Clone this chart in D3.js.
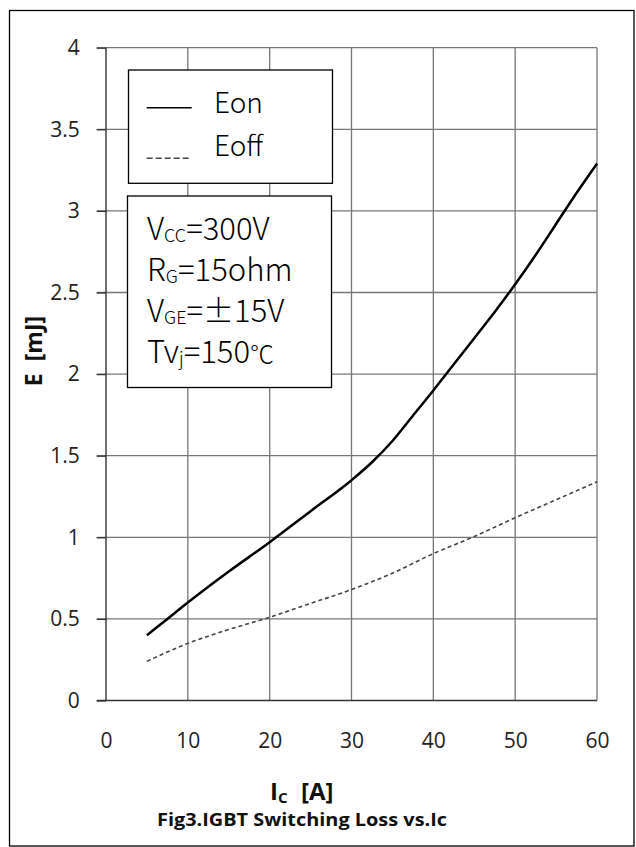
<!DOCTYPE html>
<html>
<head>
<meta charset="utf-8">
<script src="https://cdn.jsdelivr.net/npm/d3@7"></script>
<style>
  html, body { margin: 0; padding: 0; background: #fff; }
  svg { display: block; }
</style>
</head>
<body>
<svg id="chart" width="636" height="847"></svg>
<script>
// ---- data ----
const eonCurrent  = [5, 7.5, 10, 15, 20, 25, 30, 32.5, 35, 37.5, 40, 42.5, 45, 47.5, 50, 52.5, 55, 57.5, 60];
const eonEnergy   = [0.40, 0.50, 0.60, 0.79, 0.97, 1.16, 1.35, 1.46, 1.59, 1.745, 1.90, 2.06, 2.22, 2.38, 2.55, 2.73, 2.92, 3.11, 3.29];
const eoffCurrent = [5, 10, 15, 20, 25, 30, 35, 40, 45, 50, 55, 60];
const eoffEnergy  = [0.24, 0.35, 0.435, 0.51, 0.595, 0.68, 0.78, 0.90, 1.005, 1.12, 1.23, 1.34];
const xTicks = [0, 10, 20, 30, 40, 50, 60];
const yTicks = [0, 0.5, 1, 1.5, 2, 2.5, 3, 3.5, 4];
const yTickLabels = ["0", "0.5", "1", "1.5", "2", "2.5", "3", "3.5", "4"];
const legendNames = ["Eon", "Eoff"];

const svg = d3.select("#chart");
const x = d3.scaleLinear().domain([0, 60]).range([106, 597]);
const y = d3.scaleLinear().domain([0, 4]).range([700.5, 47.7]);

// outer frame
svg.append("rect").attr("x", 9.5).attr("y", 10.5).attr("width", 624.5).attr("height", 835.5)
  .attr("fill", "none").attr("stroke", "#000").attr("stroke-width", 1.3);

const tickFont = "'Open Sans', 'Noto Sans', sans-serif";
const grid = svg.append("g");
grid.selectAll("line.v").data(xTicks.filter(d => d > 0)).join("line")
  .attr("x1", d => x(d)).attr("x2", d => x(d))
  .attr("y1", y(0)).attr("y2", y(4))
  .attr("stroke", "#777").attr("stroke-width", 1.3);
grid.selectAll("line.h").data(yTicks.filter(d => d > 0)).join("line")
  .attr("x1", x(0) - 9.3).attr("x2", x(60))
  .attr("y1", d => y(d)).attr("y2", d => y(d))
  .attr("stroke", "#777").attr("stroke-width", 1.3);

// y axis
const yAxis = d3.axisLeft(y).tickValues(yTicks).tickSize(9.3).tickPadding(17)
  .tickFormat((d, i) => yTickLabels[i]);
const gy = svg.append("g").attr("transform", `translate(${x(0)},0)`).call(yAxis);
gy.select(".domain").remove();
gy.selectAll(".tick line").attr("stroke", "#333").attr("stroke-width", 1.3);
gy.selectAll(".tick text").attr("font-family", tickFont).attr("font-size", 21).attr("fill", "#222");
svg.append("line").attr("x1", x(0)).attr("x2", x(0)).attr("y1", y(4)).attr("y2", y(0))
  .attr("stroke", "#333").attr("stroke-width", 1.4);

// x axis
const xAxis = d3.axisBottom(x).tickValues(xTicks).tickSize(0).tickPadding(33).tickFormat(d3.format("d"));
const gx = svg.append("g").attr("transform", `translate(0,${y(0)})`).call(xAxis);
gx.select(".domain").remove();
gx.selectAll(".tick text").attr("font-family", tickFont).attr("font-size", 21).attr("fill", "#222");
svg.append("line").attr("x1", x(0) - 9.3).attr("x2", x(60)).attr("y1", y(0)).attr("y2", y(0))
  .attr("stroke", "#333").attr("stroke-width", 1.4);

// curves
const line = d3.line().x(d => x(d[0])).y(d => y(d[1])).curve(d3.curveMonotoneX);
svg.append("path").datum(d3.zip(eonCurrent, eonEnergy)).attr("d", line)
  .attr("fill", "none").attr("stroke", "#000").attr("stroke-width", 2.5);
svg.append("path").datum(d3.zip(eoffCurrent, eoffEnergy)).attr("d", line)
  .attr("fill", "none").attr("stroke", "#444").attr("stroke-width", 1.6).attr("stroke-dasharray", "4,3");

// legend box
const legFont = "'Noto Sans CJK SC', 'Noto Sans', sans-serif";
svg.append("rect").attr("x", 128.5).attr("y", 70).attr("width", 204).attr("height", 113.3)
  .attr("fill", "#fff").attr("stroke", "#000").attr("stroke-width", 1.3);
svg.append("line").attr("x1", 146.7).attr("x2", 191.7).attr("y1", 107.7).attr("y2", 107.7)
  .attr("stroke", "#000").attr("stroke-width", 1.4);
svg.append("line").attr("x1", 146.7).attr("x2", 191.7).attr("y1", 158.3).attr("y2", 158.3)
  .attr("stroke", "#444").attr("stroke-width", 1.4).attr("stroke-dasharray", "6,3");
svg.selectAll("text.leg").data(legendNames).join("text").attr("class", "leg")
  .attr("x", 214).attr("y", (d, i) => [113.3, 156][i])
  .attr("font-family", legFont).attr("font-weight", 300).attr("font-size", 28).attr("fill", "#000")
  .text(d => d);

// conditions box
svg.append("rect").attr("x", 127.5).attr("y", 196).attr("width", 204).attr("height", 191.5)
  .attr("fill", "#fff").attr("stroke", "#000").attr("stroke-width", 1.3);
// part types: 0 normal, 1 subscript, 2 small symbol
const condLines = [
  [["V", 0], ["CC", 1], ["=300V", 0]],
  [["R", 0], ["G", 1], ["=15ohm", 0]],
  [["V", 0], ["GE", 1], ["=±15V", 0]],
  [["Tv", 0], ["j", 1], ["=150", 0], ["℃", 2]]
];
const condBase = [240, 281, 322, 362.5];
condLines.forEach((parts, i) => {
  const t = svg.append("text").attr("x", 147).attr("y", condBase[i])
    .attr("font-family", legFont).attr("font-weight", 300).attr("font-size", 31).attr("fill", "#000");
  let prevSub = false;
  parts.forEach(([s, kind]) => {
    const ts = t.append("tspan").text(s);
    if (kind === 1) { ts.attr("font-size", 18).attr("dy", 2); prevSub = true; return; }
    if (prevSub) ts.attr("dy", -2);
    prevSub = false;
    if (kind === 2) ts.attr("font-size", 24);
  });
});

// axis titles
const boldFont = "'Open Sans', 'Noto Sans', sans-serif";
svg.append("text").attr("transform", "translate(41.5,351) rotate(-90)")
  .attr("text-anchor", "middle").attr("font-family", boldFont).attr("font-weight", 700)
  .attr("font-size", 23).attr("fill", "#111").style("white-space", "pre").text("E  [mJ]");

const xt = svg.append("text").attr("x", 270).attr("y", 800)
  .attr("font-family", boldFont).attr("font-weight", 700).attr("font-size", 24).attr("fill", "#111");
xt.append("tspan").text("I");
xt.append("tspan").attr("font-size", 15).attr("dy", 3).text("C");
xt.append("tspan").attr("x", 301).attr("dy", -3).text("[A]");

svg.append("text").attr("x", 302).attr("y", 826).attr("text-anchor", "middle")
  .attr("font-family", boldFont).attr("font-weight", 700).attr("font-size", 17).attr("fill", "#111")
  .attr("textLength", 290).attr("lengthAdjust", "spacingAndGlyphs")
  .text("Fig3.IGBT Switching Loss vs.Ic");
</script>
</body>
</html>
